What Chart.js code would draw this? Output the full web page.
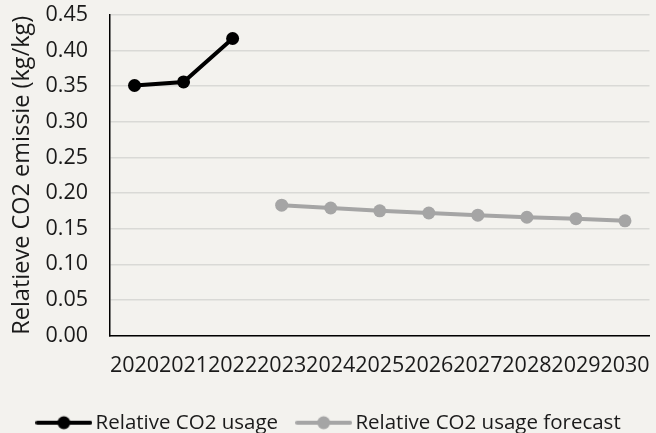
<!DOCTYPE html>
<html>
<head>
<meta charset="utf-8">
<script src="https://cdn.jsdelivr.net/npm/chart.js@4"></script>
<style>
  html, body { margin: 0; padding: 0; background: #f3f2ee; }
  #wrap { width: 656px; height: 433px; position: relative; }
</style>
</head>
<body>
<div id="wrap"><canvas id="c" width="656" height="433"></canvas></div>
<script>
const categories = ['2020','2021','2022','2023','2024','2025','2026','2027','2028','2029','2030'];
const actualValues = [0.351, 0.356, 0.417, null, null, null, null, null, null, null, null];
const forecastValues = [null, null, null, 0.183, 0.179, 0.175, 0.172, 0.169, 0.166, 0.164, 0.161];
const seriesNames = ['Relative CO2 usage', 'Relative CO2 usage forecast'];
const yTitle = 'Relatieve CO2 emissie (kg/kg)';
const yMin = 0, yMax = 0.45, yStep = 0.05;

const FONT = 'Open Sans';
const FS = 21.5;
const TEXT = '#1a1a1a';
const BLACK = '#000000';
const GREY = '#a5a5a5';

function legendIcon(color) {
  const c = document.createElement('canvas');
  c.width = 57; c.height = 16;
  const g = c.getContext('2d');
  g.strokeStyle = color; g.lineWidth = 4; g.lineCap = 'round';
  g.beginPath(); g.moveTo(2, 8); g.lineTo(55, 8); g.stroke();
  g.fillStyle = color;
  g.beginPath(); g.arc(28.5, 8, 6.5, 0, Math.PI * 2); g.fill();
  return c;
}
const icons = [legendIcon(BLACK), legendIcon(GREY)];

new Chart(document.getElementById('c'), {
  type: 'line',
  data: {
    labels: categories,
    datasets: [
      { label: seriesNames[0], data: actualValues, borderColor: BLACK, backgroundColor: BLACK,
        borderWidth: 4, pointRadius: 6.5, pointHoverRadius: 6.5, pointBackgroundColor: BLACK,
        pointBorderWidth: 0, tension: 0, spanGaps: false },
      { label: seriesNames[1], data: forecastValues, borderColor: GREY, backgroundColor: GREY,
        borderWidth: 4, pointRadius: 6.5, pointHoverRadius: 6.5, pointBackgroundColor: GREY,
        pointBorderWidth: 0, tension: 0, spanGaps: false }
    ]
  },
  options: {
    responsive: false,
    animation: false,
    devicePixelRatio: 1,
    layout: { padding: { left: 8, right: 1, top: 0, bottom: -10 } },
    plugins: {
      tooltip: { enabled: false },
      legend: {
        position: 'bottom',
        labels: {
          font: { family: FONT, size: 20.5 },
          color: TEXT,
          usePointStyle: true,
          pointStyleWidth: 43,
          padding: 24,
          generateLabels(chart) {
            return chart.data.datasets.map((ds, i) => ({
              text: ds.label, datasetIndex: i, pointStyle: icons[i],
              fillStyle: ds.borderColor, strokeStyle: ds.borderColor, lineWidth: 0,
              fontColor: TEXT, hidden: false
            }));
          }
        }
      }
    },
    scales: {
      x: {
        offset: true,
        grid: { display: false, drawTicks: false, offset: true },
        border: { display: true, color: BLACK, width: 1.5 },
        ticks: { font: { family: FONT, size: FS }, color: TEXT, maxRotation: 0, minRotation: 0,
                 autoSkip: false, padding: 17 },
        afterFit(scale) { scale.paddingLeft = 0; scale.paddingRight = 0; scale.height = 53; }
      },
      y: {
        min: yMin, max: yMax,
        grid: { color: '#d9d9d6', lineWidth: 1.5, drawTicks: false },
        border: { display: true, color: BLACK, width: 1.5 },
        ticks: { stepSize: yStep, font: { family: FONT, size: FS }, color: TEXT, padding: 22,
                 callback: v => Number(v).toFixed(2) },
        title: { display: true, text: yTitle, font: { family: FONT, size: 23.5 }, color: TEXT,
                 padding: { top: 0, bottom: 4 } },
        afterFit(scale) { scale.width = 102; scale.paddingTop = 15; scale.paddingBottom = 0; }
      }
    }
  }
});
</script>
</body>
</html>
